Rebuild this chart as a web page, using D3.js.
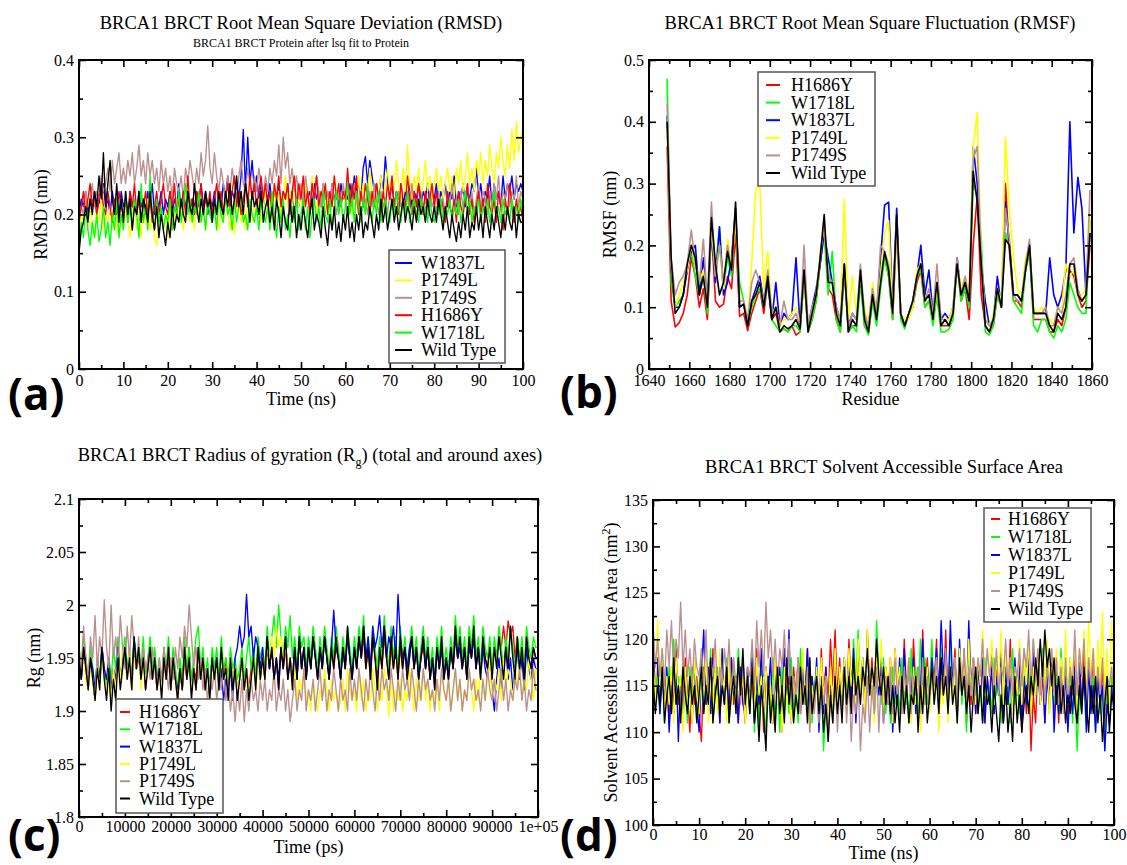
<!DOCTYPE html>
<html>
<head>
<meta charset="utf-8">
<script src="https://cdn.jsdelivr.net/npm/d3@7/dist/d3.min.js"></script>
<style>
  body { margin: 0; background: #fff; }
  text { font-family: "Liberation Serif", "Times New Roman", serif; font-weight: normal; fill: #000; }
</style>
</head>
<body>
<svg id="fig" width="1127" height="865"></svg>
<script>
// ---- shared ----
const colorOf = {
  "H1686Y": "#ff0000", "W1718L": "#00ff00", "W1837L": "#0000ff",
  "P1749L": "#ffff00", "P1749S": "#bc8f8f", "Wild Type": "#000000"
};

// ---- (a) RMSD, every 0.5 ns ----
const timeNs = d3.range(0, 100.001, 0.5);
const rmsdW1837L = [
  0.20,0.22,0.21,0.23,0.20,0.22,0.21,0.23,0.20,0.22,0.21,0.24,0.21,0.22,0.20,0.23,0.21,0.22,0.20,0.23,
  0.21,0.22,0.20,0.23,0.21,0.22,0.20,0.23,0.21,0.22,0.20,0.23,0.21,0.24,0.20,0.22,0.21,0.23,0.20,0.22,
  0.21,0.23,0.20,0.22,0.21,0.24,0.20,0.22,0.21,0.23,0.20,0.22,0.21,0.23,0.22,0.24,0.21,0.23,0.20,0.22,
  0.21,0.23,0.20,0.22,0.21,0.24,0.22,0.25,0.21,0.23,0.22,0.24,0.22,0.25,0.31,0.23,0.30,0.24,0.27,0.23,
  0.25,0.22,0.24,0.21,0.23,0.22,0.24,0.21,0.23,0.22,0.24,0.21,0.23,0.22,0.24,0.21,0.23,0.20,0.22,0.21,
  0.23,0.21,0.24,0.22,0.23,0.21,0.24,0.22,0.23,0.21,0.24,0.22,0.23,0.21,0.24,0.22,0.23,0.21,0.24,0.22,
  0.23,0.22,0.24,0.22,0.25,0.23,0.24,0.22,0.26,0.275,0.24,0.27,0.25,0.23,0.24,0.22,0.25,0.23,0.275,0.24,
  0.22,0.24,0.21,0.23,0.22,0.24,0.21,0.23,0.22,0.24,0.21,0.23,0.22,0.24,0.21,0.23,0.22,0.24,0.21,0.23,
  0.22,0.24,0.21,0.23,0.22,0.24,0.21,0.23,0.22,0.25,0.21,0.23,0.22,0.24,0.21,0.23,0.22,0.24,0.23,0.26,
  0.22,0.24,0.21,0.23,0.22,0.25,0.21,0.24,0.22,0.23,0.21,0.25,0.22,0.24,0.23,0.25,0.22,0.24,0.23,0.24,
  0.23];
const rmsdP1749L = [
  0.18,0.20,0.19,0.22,0.18,0.21,0.19,0.17,0.21,0.19,0.22,0.18,0.20,0.19,0.21,0.18,0.22,0.19,0.17,0.20,
  0.18,0.21,0.19,0.17,0.20,0.22,0.18,0.20,0.17,0.21,0.19,0.22,0.18,0.20,0.17,0.16,0.19,0.21,0.18,0.20,
  0.17,0.21,0.19,0.18,0.22,0.19,0.21,0.18,0.20,0.22,0.19,0.21,0.18,0.22,0.20,0.19,0.21,0.18,0.22,0.20,
  0.19,0.22,0.20,0.18,0.21,0.19,0.23,0.20,0.18,0.21,0.175,0.20,0.22,0.19,0.21,0.18,0.22,0.20,0.19,0.21,
  0.20,0.22,0.19,0.21,0.23,0.20,0.22,0.19,0.24,0.21,0.23,0.20,0.22,0.25,0.21,0.23,0.20,0.24,0.22,0.21,
  0.23,0.20,0.24,0.22,0.21,0.25,0.22,0.20,0.23,0.21,0.24,0.22,0.20,0.23,0.21,0.25,0.22,0.24,0.21,0.23,
  0.21,0.24,0.22,0.20,0.23,0.21,0.25,0.22,0.24,0.21,0.23,0.26,0.22,0.24,0.21,0.23,0.25,0.22,0.24,0.26,
  0.22,0.25,0.23,0.27,0.24,0.22,0.26,0.23,0.29,0.24,0.22,0.25,0.23,0.26,0.22,0.24,0.27,0.23,0.25,0.22,
  0.24,0.26,0.23,0.25,0.22,0.24,0.26,0.23,0.25,0.22,0.26,0.24,0.27,0.23,0.25,0.28,0.24,0.26,0.23,0.27,
  0.25,0.28,0.24,0.27,0.25,0.29,0.26,0.24,0.28,0.26,0.30,0.27,0.25,0.29,0.26,0.31,0.27,0.32,0.28,0.30,
  0.31];
const rmsdP1749S = [
  0.19,0.21,0.20,0.23,0.21,0.22,0.24,0.21,0.23,0.22,0.25,0.23,0.24,0.26,0.23,0.27,0.24,0.26,0.28,0.24,
  0.26,0.24,0.27,0.25,0.28,0.24,0.26,0.29,0.25,0.27,0.24,0.28,0.25,0.27,0.24,0.26,0.23,0.27,0.24,0.26,
  0.23,0.25,0.22,0.26,0.24,0.23,0.25,0.22,0.26,0.24,0.27,0.25,0.23,0.26,0.24,0.28,0.25,0.27,0.315,0.26,
  0.24,0.28,0.25,0.23,0.26,0.24,0.22,0.25,0.23,0.26,0.24,0.22,0.25,0.27,0.24,0.23,0.26,0.24,0.22,0.25,
  0.23,0.26,0.24,0.22,0.25,0.23,0.26,0.24,0.27,0.25,0.29,0.24,0.30,0.26,0.28,0.24,0.26,0.23,0.25,0.22,
  0.24,0.22,0.25,0.23,0.21,0.24,0.22,0.25,0.23,0.21,0.24,0.22,0.23,0.21,0.24,0.22,0.20,0.23,0.21,0.24,
  0.22,0.20,0.23,0.21,0.24,0.22,0.20,0.23,0.21,0.22,0.20,0.23,0.21,0.24,0.22,0.20,0.23,0.21,0.22,0.20,
  0.23,0.21,0.22,0.20,0.23,0.21,0.22,0.20,0.23,0.21,0.24,0.21,0.22,0.20,0.23,0.21,0.22,0.20,0.23,0.21,
  0.22,0.20,0.23,0.21,0.22,0.20,0.23,0.21,0.24,0.21,0.22,0.20,0.23,0.21,0.22,0.24,0.21,0.23,0.20,0.22,
  0.24,0.21,0.23,0.22,0.20,0.23,0.21,0.24,0.22,0.25,0.21,0.23,0.22,0.24,0.21,0.23,0.22,0.25,0.21,0.23,
  0.22];
const rmsdH1686Y = [
  0.19,0.21,0.23,0.20,0.22,0.24,0.21,0.23,0.20,0.22,0.24,0.21,0.20,0.23,0.21,0.19,0.22,0.20,0.23,0.21,
  0.20,0.22,0.19,0.23,0.21,0.24,0.20,0.22,0.19,0.21,0.23,0.20,0.22,0.19,0.21,0.23,0.20,0.22,0.24,0.21,
  0.20,0.23,0.21,0.24,0.20,0.22,0.21,0.23,0.20,0.25,0.21,0.22,0.20,0.23,0.21,0.24,0.20,0.22,0.21,0.23,
  0.20,0.22,0.24,0.21,0.23,0.20,0.22,0.24,0.21,0.23,0.25,0.21,0.23,0.20,0.22,0.24,0.21,0.25,0.22,0.24,
  0.21,0.23,0.25,0.22,0.24,0.21,0.23,0.20,0.24,0.22,0.25,0.21,0.23,0.22,0.24,0.20,0.23,0.25,0.21,0.24,
  0.22,0.25,0.21,0.23,0.20,0.24,0.22,0.25,0.21,0.23,0.22,0.24,0.20,0.23,0.21,0.25,0.22,0.24,0.21,0.23,
  0.22,0.26,0.21,0.24,0.22,0.25,0.20,0.23,0.21,0.24,0.22,0.20,0.23,0.21,0.24,0.22,0.20,0.23,0.21,0.24,
  0.22,0.25,0.21,0.23,0.20,0.24,0.22,0.21,0.25,0.22,0.20,0.23,0.21,0.24,0.22,0.20,0.23,0.21,0.22,0.24,
  0.21,0.23,0.20,0.22,0.21,0.19,0.23,0.21,0.20,0.22,0.19,0.23,0.21,0.20,0.22,0.24,0.20,0.22,0.19,0.21,
  0.23,0.20,0.22,0.19,0.24,0.21,0.20,0.22,0.19,0.23,0.21,0.18,0.22,0.20,0.24,0.21,0.19,0.22,0.20,0.21,
  0.19];
const rmsdW1718L = [
  0.16,0.19,0.17,0.21,0.18,0.16,0.19,0.17,0.20,0.165,0.18,0.21,0.17,0.19,0.16,0.20,0.18,0.22,0.17,0.20,
  0.18,0.23,0.19,0.21,0.18,0.22,0.20,0.17,0.24,0.19,0.21,0.18,0.25,0.20,0.18,0.22,0.19,0.21,0.18,0.20,
  0.19,0.22,0.18,0.21,0.20,0.23,0.19,0.21,0.24,0.20,0.22,0.19,0.21,0.20,0.23,0.19,0.21,0.18,0.22,0.20,
  0.19,0.21,0.18,0.22,0.20,0.19,0.23,0.20,0.21,0.18,0.22,0.19,0.21,0.23,0.19,0.20,0.18,0.22,0.20,0.19,
  0.21,0.18,0.22,0.20,0.19,0.21,0.18,0.23,0.20,0.17,0.21,0.19,0.22,0.18,0.20,0.17,0.21,0.19,0.22,0.18,
  0.20,0.22,0.18,0.21,0.17,0.20,0.22,0.19,0.21,0.18,0.23,0.20,0.19,0.22,0.18,0.21,0.23,0.20,0.22,0.19,
  0.21,0.24,0.20,0.22,0.19,0.23,0.21,0.19,0.22,0.20,0.24,0.21,0.19,0.22,0.20,0.23,0.19,0.21,0.22,0.20,
  0.19,0.22,0.20,0.23,0.21,0.19,0.22,0.20,0.23,0.19,0.21,0.22,0.20,0.19,0.22,0.20,0.21,0.19,0.22,0.20,
  0.19,0.21,0.20,0.22,0.19,0.21,0.20,0.22,0.19,0.21,0.20,0.22,0.19,0.21,0.23,0.20,0.22,0.19,0.21,0.20,
  0.22,0.19,0.21,0.20,0.22,0.19,0.21,0.23,0.20,0.21,0.19,0.22,0.20,0.21,0.19,0.22,0.20,0.21,0.19,0.22,
  0.20];
const rmsdWT = [
  0.15,0.18,0.19,0.21,0.19,0.22,0.20,0.23,0.21,0.25,0.22,0.28,0.21,0.24,0.27,0.22,0.20,0.24,0.19,0.22,
  0.19,0.23,0.20,0.22,0.18,0.21,0.20,0.23,0.19,0.22,0.21,0.19,0.23,0.20,0.18,0.21,0.17,0.20,0.18,0.16,
  0.19,0.17,0.21,0.18,0.20,0.19,0.22,0.20,0.19,0.23,0.21,0.20,0.24,0.21,0.19,0.22,0.20,0.23,0.21,0.22,
  0.19,0.22,0.20,0.23,0.21,0.20,0.23,0.21,0.24,0.20,0.22,0.25,0.21,0.23,0.20,0.24,0.22,0.19,0.23,0.21,
  0.22,0.20,0.23,0.19,0.21,0.22,0.19,0.21,0.18,0.22,0.20,0.17,0.21,0.19,0.18,0.22,0.19,0.21,0.17,0.20,
  0.18,0.21,0.19,0.17,0.20,0.22,0.18,0.20,0.19,0.17,0.21,0.18,0.16,0.20,0.18,0.21,0.17,0.19,0.165,0.20,
  0.18,0.21,0.17,0.19,0.165,0.20,0.18,0.21,0.17,0.19,0.18,0.21,0.19,0.17,0.20,0.18,0.22,0.19,0.21,0.18,
  0.20,0.22,0.19,0.21,0.18,0.20,0.22,0.19,0.21,0.20,0.18,0.21,0.19,0.22,0.20,0.21,0.19,0.22,0.20,0.19,
  0.21,0.19,0.22,0.20,0.18,0.21,0.19,0.17,0.20,0.18,0.165,0.19,0.17,0.20,0.18,0.21,0.17,0.19,0.18,0.21,
  0.18,0.20,0.17,0.21,0.19,0.17,0.20,0.18,0.21,0.19,0.17,0.20,0.18,0.21,0.19,0.18,0.21,0.17,0.20,0.19,
  0.19];

// ---- (b) RMSF, every second residue ----
const residue = d3.range(1649, 1860, 2);
const rmsfH1686Y = [0.36,0.11,0.068,0.075,0.09,0.12,0.18,0.15,0.10,0.13, 0.08,0.23,0.11,0.10,0.105,0.15,0.13,0.22,0.085,0.09,
  0.062,0.09,0.11,0.13,0.09,0.14,0.08,0.09,0.06,0.065, 0.06,0.07,0.055,0.06,0.15,0.06,0.08,0.11,0.17,0.23,
  0.13,0.12,0.08,0.06,0.16,0.06,0.07,0.07,0.15,0.07, 0.06,0.11,0.08,0.15,0.18,0.15,0.08,0.23,0.09,0.07,
  0.09,0.10,0.14,0.16,0.10,0.11,0.08,0.12,0.07,0.07, 0.07,0.09,0.17,0.11,0.13,0.08,0.20,0.28,0.12,0.07,
  0.06,0.07,0.12,0.10,0.30,0.19,0.11,0.11,0.10,0.16, 0.19,0.08,0.08,0.08,0.08,0.06,0.06,0.08,0.07,0.10,
  0.16,0.15,0.12,0.10,0.11,0.20];
const rmsfW1718L = [0.47,0.14,0.10,0.11,0.12,0.16,0.19,0.15,0.12,0.15, 0.09,0.23,0.16,0.23,0.13,0.18,0.15,0.25,0.14,0.11,
  0.07,0.10,0.12,0.13,0.10,0.14,0.08,0.07,0.06,0.065, 0.06,0.07,0.07,0.06,0.15,0.06,0.08,0.11,0.17,0.22,
  0.12,0.19,0.08,0.06,0.16,0.06,0.07,0.06,0.14,0.07, 0.055,0.11,0.07,0.13,0.18,0.15,0.08,0.24,0.08,0.065,
  0.09,0.10,0.15,0.16,0.10,0.11,0.07,0.12,0.06,0.06, 0.065,0.08,0.17,0.11,0.13,0.10,0.30,0.28,0.21,0.06,
  0.055,0.07,0.12,0.10,0.22,0.20,0.11,0.10,0.09,0.16, 0.19,0.07,0.06,0.08,0.08,0.06,0.05,0.07,0.06,0.08,
  0.14,0.12,0.10,0.09,0.09,0.24];
const rmsfW1837L = [0.41,0.16,0.10,0.10,0.12,0.16,0.19,0.20,0.12,0.18, 0.10,0.22,0.14,0.23,0.12,0.14,0.18,0.26,0.10,0.105,
  0.07,0.11,0.13,0.15,0.11,0.14,0.08,0.14,0.07,0.09, 0.08,0.09,0.18,0.07,0.16,0.07,0.10,0.13,0.17,0.22,
  0.18,0.14,0.10,0.08,0.17,0.07,0.09,0.08,0.15,0.09, 0.07,0.13,0.09,0.18,0.265,0.27,0.10,0.26,0.09,0.07,
  0.09,0.11,0.15,0.20,0.12,0.16,0.09,0.14,0.08,0.09, 0.08,0.10,0.18,0.12,0.14,0.11,0.36,0.30,0.17,0.11,
  0.07,0.08,0.15,0.10,0.27,0.20,0.12,0.12,0.11,0.17, 0.20,0.09,0.09,0.09,0.09,0.18,0.12,0.10,0.12,0.16,
  0.40,0.22,0.31,0.26,0.12,0.22];
const rmsfP1749L = [0.39,0.17,0.10,0.12,0.14,0.16,0.20,0.17,0.14,0.16, 0.10,0.23,0.15,0.20,0.13,0.21,0.17,0.24,0.11,0.11,
  0.08,0.17,0.29,0.30,0.13,0.19,0.09,0.10,0.07,0.08, 0.08,0.09,0.10,0.07,0.15,0.07,0.09,0.12,0.19,0.23,
  0.15,0.14,0.09,0.08,0.275,0.08,0.15,0.09,0.15,0.10, 0.07,0.14,0.09,0.15,0.22,0.24,0.09,0.23,0.09,0.08,
  0.08,0.10,0.16,0.17,0.11,0.12,0.08,0.13,0.08,0.08, 0.08,0.10,0.17,0.13,0.15,0.12,0.36,0.415,0.18,0.08,
  0.07,0.09,0.13,0.11,0.375,0.26,0.18,0.13,0.12,0.18, 0.20,0.10,0.09,0.10,0.09,0.08,0.07,0.10,0.10,0.17,
  0.15,0.16,0.12,0.12,0.13,0.25];
const rmsfP1749S = [0.43,0.18,0.12,0.14,0.15,0.17,0.225,0.17,0.14,0.21, 0.11,0.27,0.15,0.20,0.14,0.20,0.16,0.26,0.11,0.11,
  0.08,0.14,0.16,0.14,0.11,0.16,0.09,0.10,0.07,0.11, 0.08,0.08,0.09,0.07,0.20,0.07,0.10,0.12,0.18,0.24,
  0.15,0.14,0.10,0.08,0.16,0.07,0.09,0.08,0.17,0.09, 0.07,0.13,0.09,0.20,0.19,0.17,0.09,0.24,0.09,0.07,
  0.09,0.11,0.15,0.17,0.11,0.13,0.09,0.17,0.08,0.08, 0.07,0.09,0.18,0.12,0.15,0.11,0.34,0.36,0.18,0.08,
  0.07,0.08,0.13,0.10,0.26,0.21,0.12,0.11,0.11,0.17, 0.21,0.09,0.09,0.09,0.10,0.07,0.07,0.10,0.09,0.12,
  0.17,0.18,0.13,0.11,0.12,0.29];
const rmsfWT = [0.40,0.18,0.09,0.10,0.12,0.17,0.20,0.18,0.12,0.15, 0.10,0.245,0.17,0.12,0.14,0.19,0.16,0.27,0.10,0.105,
  0.07,0.11,0.12,0.14,0.10,0.15,0.08,0.10,0.06,0.07, 0.065,0.07,0.08,0.065,0.16,0.06,0.09,0.12,0.18,0.25,
  0.14,0.14,0.09,0.07,0.17,0.06,0.08,0.07,0.16,0.08, 0.06,0.12,0.08,0.14,0.19,0.16,0.09,0.25,0.09,0.07,
  0.09,0.11,0.15,0.17,0.11,0.12,0.08,0.14,0.07,0.08, 0.07,0.09,0.17,0.12,0.14,0.11,0.32,0.27,0.17,0.07,
  0.06,0.08,0.13,0.10,0.21,0.20,0.12,0.12,0.11,0.16, 0.20,0.09,0.09,0.09,0.09,0.07,0.06,0.09,0.08,0.10,
  0.17,0.17,0.12,0.11,0.12,0.22];

// ---- (c) Radius of gyration, every 500 ps ----
const timePs = d3.range(0, 100001, 500);
const rgH1686Y = [
  1.95,1.93,1.96,1.94,1.92,1.95,1.93,1.91,1.95,1.93,1.96,1.94,1.92,1.94,1.91,1.94,1.92,1.95,1.93,1.95,
  1.96,1.93,1.95,1.92,1.96,1.94,1.95,1.93,1.96,1.92,1.95,1.96,1.93,1.95,1.92,1.94,1.92,1.96,1.93,1.95,
  1.92,1.95,1.93,1.91,1.94,1.92,1.95,1.93,1.96,1.92,1.94,1.93,1.96,1.93,1.95,1.92,1.94,1.92,1.95,1.93,
  1.95,1.92,1.96,1.93,1.95,1.92,1.95,1.93,1.94,1.92,1.93,1.95,1.92,1.94,1.92,1.94,1.95,1.93,1.96,1.93,
  1.95,1.93,1.96,1.94,1.96,1.93,1.95,1.92,1.96,1.94,1.96,1.93,1.95,1.93,1.96,1.93,1.97,1.94,1.96,1.93,
  1.96,1.94,1.97,1.95,1.93,1.96,1.94,1.97,1.95,1.93,1.96,1.94,1.96,1.95,1.93,1.96,1.94,1.97,1.95,1.93,
  1.96,1.94,1.97,1.95,1.97,1.94,1.96,1.93,1.97,1.95,1.93,1.96,1.94,1.97,1.95,1.93,1.96,1.94,1.96,1.93,
  1.96,1.94,1.96,1.93,1.95,1.97,1.94,1.96,1.93,1.95,1.96,1.94,1.96,1.93,1.95,1.92,1.96,1.94,1.96,1.93,
  1.95,1.93,1.96,1.94,1.97,1.95,1.96,1.94,1.96,1.93,1.97,1.95,1.97,1.94,1.96,1.93,1.97,1.95,1.94,1.96,
  1.94,1.96,1.95,1.97,1.96,1.98,1.96,1.985,1.97,1.98,1.95,1.97,1.94,1.96,1.94,1.97,1.95,1.94,1.96,1.95,
  1.95];
const rgW1718L = [
  1.96,1.94,1.97,1.95,1.93,1.96,1.94,1.92,1.95,1.93,1.96,1.94,1.92,1.95,1.93,1.96,1.94,1.97,1.93,1.95,
  1.97,1.94,1.96,1.93,1.97,1.95,1.96,1.94,1.97,1.93,1.95,1.97,1.94,1.96,1.93,1.95,1.92,1.96,1.94,1.97,
  1.93,1.96,1.94,1.92,1.95,1.93,1.97,1.94,1.96,1.93,1.95,1.97,1.98,1.94,1.96,1.93,1.95,1.92,1.96,1.94,
  1.96,1.93,1.97,1.94,1.95,1.93,1.96,1.94,1.95,1.93,1.94,1.96,1.93,1.95,1.97,1.94,1.96,1.93,1.97,1.95,
  1.96,1.94,1.98,1.95,1.97,1.99,1.96,2.00,1.97,1.95,1.98,1.96,1.99,1.95,1.97,1.94,1.98,1.96,1.97,1.94,
  1.97,1.95,1.98,1.96,1.94,1.97,1.95,1.98,1.96,1.94,1.97,1.95,1.98,1.96,1.94,1.97,1.95,1.98,1.96,1.94,
  1.97,1.95,1.98,1.96,1.99,1.95,1.97,1.94,1.98,1.96,1.94,1.97,1.95,1.99,1.96,1.94,1.98,1.95,1.97,1.94,
  1.98,1.95,1.97,1.94,1.96,1.98,1.95,1.97,1.94,1.96,1.98,1.95,1.97,1.94,1.96,1.93,1.97,1.95,1.98,1.94,
  1.96,1.94,1.97,1.95,1.99,1.96,1.98,1.95,1.97,1.94,1.98,1.96,1.99,1.95,1.97,1.94,1.98,1.96,1.95,1.97,
  1.94,1.97,1.95,1.98,1.96,1.94,1.97,1.95,1.98,1.96,1.94,1.97,1.95,1.97,1.94,1.98,1.96,1.95,1.97,1.96,
  1.96];
const rgW1837L = [
  1.95,1.93,1.96,1.94,1.93,1.95,1.94,1.92,1.95,1.93,1.96,1.94,1.93,1.95,1.92,1.94,1.93,1.96,1.93,1.95,
  1.96,1.94,1.95,1.93,1.97,1.94,1.96,1.93,1.95,1.93,1.94,1.96,1.93,1.95,1.93,1.94,1.92,1.95,1.93,1.96,
  1.92,1.95,1.93,1.92,1.94,1.92,1.96,1.93,1.95,1.92,1.94,1.92,1.95,1.93,1.95,1.92,1.94,1.92,1.95,1.93,
  1.95,1.92,1.94,1.91,1.93,1.92,1.94,1.91,1.95,1.96,1.98,1.96,1.97,2.01,1.97,1.98,1.95,1.97,1.96,1.94,
  1.96,1.93,1.97,1.94,1.96,1.93,1.95,1.93,1.96,1.94,1.97,1.93,1.95,1.93,1.96,1.93,1.97,1.94,1.96,1.93,
  1.96,1.94,1.97,1.95,1.93,1.96,1.94,1.97,1.95,1.93,1.96,1.995,1.96,1.95,1.93,1.96,1.94,1.97,1.95,1.93,
  1.96,1.94,1.97,1.95,1.98,1.95,1.97,1.94,1.98,1.96,1.97,1.99,1.96,1.98,1.95,1.97,1.96,1.98,1.95,2.01,
  1.97,1.95,1.96,1.94,1.96,1.97,1.94,1.96,1.93,1.95,1.97,1.94,1.96,1.93,1.95,1.93,1.96,1.94,1.96,1.93,
  1.95,1.93,1.96,1.94,1.97,1.95,1.96,1.94,1.96,1.93,1.96,1.95,1.97,1.94,1.96,1.93,1.96,1.94,1.93,1.95,
  1.92,1.90,1.93,1.95,1.92,1.94,1.96,1.93,1.95,1.92,1.94,1.96,1.93,1.95,1.92,1.96,1.94,1.93,1.95,1.94,
  1.94];
const rgP1749L = [
  1.96,1.94,1.95,1.93,1.92,1.94,1.93,1.91,1.95,1.92,1.95,1.93,1.92,1.94,1.91,1.94,1.92,1.95,1.93,1.96,
  1.95,1.93,1.96,1.92,1.95,1.94,1.96,1.92,1.95,1.93,1.94,1.96,1.93,1.95,1.92,1.94,1.92,1.95,1.93,1.96,
  1.92,1.95,1.93,1.91,1.94,1.92,1.96,1.93,1.95,1.92,1.94,1.92,1.95,1.93,1.95,1.92,1.94,1.91,1.95,1.93,
  1.94,1.92,1.95,1.93,1.94,1.92,1.95,1.93,1.94,1.92,1.93,1.95,1.92,1.94,1.92,1.93,1.95,1.92,1.94,1.93,
  1.95,1.93,1.96,1.95,1.97,1.95,1.98,1.96,1.97,1.95,1.96,1.94,1.95,1.92,1.94,1.91,1.93,1.92,1.94,1.91,
  1.92,1.90,1.93,1.91,1.90,1.92,1.91,1.94,1.92,1.90,1.93,1.91,1.92,1.90,1.91,1.93,1.90,1.94,1.92,1.91,
  1.92,1.90,1.94,1.91,1.93,1.90,1.92,1.91,1.94,1.92,1.90,1.93,1.91,1.94,1.92,1.895,1.93,1.90,1.92,1.91,
  1.93,1.90,1.92,1.91,1.94,1.92,1.90,1.93,1.91,1.92,1.94,1.91,1.93,1.90,1.92,1.91,1.93,1.90,1.94,1.92,
  1.91,1.93,1.90,1.92,1.94,1.91,1.93,1.90,1.92,1.91,1.94,1.92,1.90,1.93,1.91,1.94,1.92,1.91,1.93,1.95,
  1.91,1.93,1.92,1.94,1.91,1.95,1.92,1.94,1.93,1.91,1.94,1.92,1.95,1.91,1.93,1.92,1.95,1.93,1.91,1.94,
  1.93];
const rgP1749S = [
  1.96,1.94,1.98,1.95,1.93,1.97,1.95,1.99,1.94,1.97,1.95,2.005,1.96,1.94,2.00,1.95,1.97,1.94,1.99,1.96,
  1.94,1.98,1.95,1.99,1.96,1.94,1.97,1.93,1.96,1.94,1.95,1.93,1.96,1.94,1.92,1.95,1.93,1.96,1.94,1.92,
  1.95,1.93,1.96,1.94,1.97,1.95,1.98,1.96,2.00,1.97,1.94,1.96,1.93,1.95,1.92,1.94,1.91,1.93,1.92,1.94,
  1.91,1.93,1.92,1.94,1.91,1.93,1.90,1.92,1.89,1.92,1.90,1.93,1.89,1.92,1.90,1.93,1.91,1.92,1.90,1.93,
  1.91,1.93,1.90,1.92,1.91,1.94,1.90,1.92,1.91,1.93,1.90,1.92,1.89,1.91,1.93,1.90,1.92,1.91,1.94,1.90,
  1.92,1.91,1.93,1.90,1.92,1.94,1.91,1.93,1.90,1.92,1.91,1.94,1.92,1.90,1.93,1.91,1.92,1.90,1.94,1.91,
  1.93,1.91,1.94,1.92,1.90,1.93,1.91,1.94,1.92,1.90,1.93,1.91,1.94,1.92,1.93,1.91,1.94,1.92,1.90,1.93,
  1.91,1.94,1.92,1.93,1.91,1.94,1.92,1.90,1.93,1.91,1.94,1.92,1.93,1.91,1.92,1.90,1.93,1.91,1.94,1.92,
  1.91,1.93,1.90,1.92,1.94,1.91,1.93,1.90,1.92,1.91,1.94,1.92,1.93,1.91,1.92,1.90,1.93,1.91,1.94,1.92,
  1.91,1.93,1.90,1.92,1.94,1.91,1.93,1.90,1.92,1.91,1.93,1.92,1.94,1.91,1.93,1.90,1.92,1.91,1.94,1.92,
  1.92];
const rgWT = [
  1.95,1.93,1.96,1.94,1.92,1.95,1.93,1.91,1.94,1.92,1.96,1.93,1.91,1.94,1.90,1.93,1.91,1.95,1.92,1.94,
  1.96,1.93,1.95,1.92,1.97,1.94,1.96,1.93,1.95,1.92,1.94,1.96,1.93,1.95,1.92,1.94,1.91,1.95,1.93,1.96,
  1.92,1.95,1.93,1.91,1.94,1.92,1.96,1.93,1.95,1.91,1.94,1.92,1.96,1.93,1.95,1.92,1.94,1.91,1.95,1.93,
  1.95,1.92,1.96,1.93,1.94,1.91,1.95,1.92,1.94,1.91,1.93,1.95,1.92,1.94,1.91,1.93,1.95,1.92,1.96,1.93,
  1.95,1.93,1.97,1.94,1.96,1.93,1.95,1.92,1.96,1.94,1.97,1.93,1.95,1.92,1.96,1.93,1.97,1.94,1.96,1.93,
  1.96,1.94,1.97,1.95,1.93,1.96,1.94,1.97,1.95,1.93,1.96,1.94,1.97,1.95,1.93,1.96,1.94,1.98,1.95,1.93,
  1.96,1.94,1.97,1.95,1.98,1.94,1.96,1.93,1.97,1.95,1.92,1.96,1.94,1.98,1.95,1.93,1.97,1.94,1.96,1.93,
  1.97,1.94,1.96,1.93,1.95,1.97,1.94,1.96,1.93,1.95,1.97,1.94,1.96,1.93,1.95,1.92,1.96,1.94,1.97,1.93,
  1.95,1.93,1.96,1.94,1.98,1.95,1.97,1.94,1.96,1.93,1.97,1.95,1.98,1.94,1.96,1.93,1.97,1.95,1.94,1.96,
  1.93,1.96,1.94,1.97,1.95,1.93,1.96,1.94,1.98,1.95,1.93,1.97,1.94,1.96,1.93,1.97,1.95,1.94,1.96,1.95,
  1.95];

// ---- (d) SASA, every 0.5 ns ----
const sasaH1686Y = [
  119,114,117,112,118,113,116,111,117,112,119,113,116,112,118,114,110,117,113,116,
  112,109,117,113,116,112,119,114,116,111,117,113,116,112,118,113,116,111,117,114,
  111,116,112,118,113,119,112,116,110,117,113,115,111,117,113,116,110,118,114,116,
  112,117,114,118,112,116,113,119,111,116,113,117,112,119,114,117,113,120,115,121,
  114,118,112,117,113,120,115,118,113,119,114,117,112,121,114,118,113,120,115,117,
  112,117,114,118,112,119,115,117,113,120,114,118,112,120,115,117,113,121,114,118,
  113,117,115,120,112,118,114,121,113,117,115,119,112,117,114,119,111,116,113,118,
  112,117,114,118,111,116,113,119,112,117,114,119,111,117,113,120,112,116,114,118,
  110,116,112,117,108,114,111,118,113,116,111,119,114,117,112,118,111,116,113,117,
  112,117,114,118,111,116,113,119,112,117,114,118,111,116,113,117,110,115,112,116,
  114];
const sasaW1718L = [
  118,113,116,112,119,111,115,117,112,120,113,116,112,118,114,111,117,113,116,112,
  115,118,112,116,113,119,111,115,117,112,116,113,118,111,115,117,112,119,115,118,
  113,116,112,119,110,115,111,117,113,110,116,112,118,111,115,110,117,112,116,112,
  118,112,115,111,119,113,116,112,118,111,115,117,112,116,108,113,110,116,112,117,
  113,116,112,118,114,117,113,120,115,121,114,118,113,120,115,117,112,122,116,113,
  118,112,116,111,117,113,115,112,118,113,116,111,119,113,117,112,120,114,118,113,
  115,120,113,117,112,119,114,117,113,120,114,118,111,119,113,117,110,118,114,116,
  117,112,116,111,118,113,115,112,118,114,116,111,117,113,115,111,119,113,116,112,
  114,119,113,117,112,120,114,118,113,119,115,117,112,118,113,116,112,119,114,117,
  113,118,111,116,108,114,112,117,111,118,113,116,110,117,112,115,108,114,111,116,
  113];
const sasaW1837L = [
  121,114,118,112,116,113,117,110,115,112,118,109,116,111,117,113,115,111,118,113,
  110,116,121,113,117,112,118,114,116,111,119,113,117,112,118,114,116,111,117,113,
  112,117,113,118,111,116,113,119,112,117,114,118,111,116,113,117,112,119,114,121,
  111,116,113,118,112,117,114,119,111,116,113,118,110,116,112,117,111,115,113,118,
  112,116,114,118,112,117,113,119,111,116,114,118,113,120,115,117,112,116,114,118,
  111,116,113,117,110,115,113,118,112,119,114,117,113,118,112,116,114,120,113,117,
  113,118,115,119,114,122,116,119,113,122,115,118,112,120,114,117,113,122,115,118,
  112,117,114,118,111,116,113,117,112,116,114,118,111,117,113,116,112,118,114,117,
  111,116,113,118,112,119,114,117,113,118,111,116,113,118,110,115,112,117,113,116,
  110,115,112,117,111,118,113,116,110,117,112,115,110,116,113,115,108,113,111,115,
  112];
const sasaP1749L = [
  118,113,122,115,119,112,116,113,117,111,118,114,116,110,117,113,115,111,118,114,
  112,117,114,118,111,116,113,117,112,119,114,116,111,118,113,116,112,117,114,116,
  111,116,113,117,112,118,114,116,112,117,113,115,111,118,113,116,110,117,113,115,
  111,116,113,118,112,119,114,116,110,115,113,117,112,118,114,116,111,117,113,119,
  112,117,114,118,112,119,115,117,113,120,114,118,112,121,114,117,111,118,115,120,
  112,117,114,118,111,119,115,117,112,116,114,118,111,117,113,116,110,115,113,117,
  112,116,114,118,110,115,113,117,111,116,114,118,112,119,115,117,113,120,114,118,
  113,118,115,121,114,119,116,120,113,118,115,121,113,119,115,118,112,117,114,120,
  113,118,115,120,112,117,114,119,113,118,115,120,112,117,114,119,113,118,115,121,
  113,118,115,120,112,119,116,121,114,122,116,119,113,120,115,123,114,119,112,122,
  116];
const sasaP1749S = [
  122,117,120,116,119,115,121,117,122,116,120,118,124,117,121,116,119,115,120,117,
  116,119,115,121,114,118,116,120,114,117,115,119,116,120,114,118,115,117,113,118,
  114,117,116,120,115,122,117,121,116,124,118,121,116,120,115,119,117,121,115,120,
  113,116,114,118,112,115,113,117,110,114,112,116,111,115,113,116,109,114,111,116,
  110,115,112,117,111,116,109,114,112,116,108,113,111,116,110,115,112,117,110,116,
  111,116,113,117,112,118,114,116,112,117,113,118,112,116,114,117,112,118,113,116,
  113,117,115,118,112,116,114,119,113,117,115,118,112,116,114,119,113,117,114,118,
  114,118,116,120,114,119,116,118,115,119,114,117,116,120,115,118,114,117,116,119,
  115,119,117,121,115,120,116,119,114,118,113,117,115,119,114,118,113,117,112,118,
  113,117,115,121,114,119,116,120,113,118,115,119,113,117,114,118,112,116,115,117,
  114];
const sasaWT = [
  116,112,115,113,117,111,114,116,112,118,113,115,111,117,114,112,116,113,115,111,
  114,117,112,115,113,118,111,114,116,112,115,113,117,111,114,116,112,118,114,119,
  113,116,112,117,111,114,109,115,112,108,116,111,114,110,117,112,115,111,118,113,
  116,111,114,112,117,113,115,111,118,112,114,116,112,115,110,113,109,114,111,116,
  112,115,111,117,113,116,112,118,114,116,113,117,115,119,114,117,115,120,116,114,
  117,113,116,112,115,111,114,110,116,112,115,111,114,113,116,110,115,112,117,111,
  114,117,113,116,112,118,114,116,112,117,113,115,111,118,114,116,112,115,110,114,
  117,112,115,111,116,113,114,110,115,112,109,114,111,115,110,113,109,116,111,114,
  110,113,115,112,116,114,118,115,120,116,121,117,119,115,118,113,116,112,115,111,
  114,112,116,113,111,115,112,117,113,110,115,112,116,111,114,109,113,116,110,114,
  113];

// ---- tick labels ----
const ticksTime10 = d3.range(0, 101, 10);
const ticksRmsd = [0, 0.1, 0.2, 0.3, 0.4];
const ticksResidue = d3.range(1640, 1861, 20);
const ticksRmsf = [0, 0.1, 0.2, 0.3, 0.4, 0.5];
const ticksTimePs = d3.range(0, 100001, 10000);
const ticksRg = [1.8, 1.85, 1.9, 1.95, 2, 2.05, 2.1];
const ticksSasa = [100, 105, 110, 115, 120, 125, 130, 135];

const svg = d3.select("#fig");
const numFmt = d => String(+d.toFixed(4));
const SERIF = '"Liberation Serif", "Times New Roman", serif';

function midpoints(t) {
  const m = [];
  for (let i = 0; i < t.length - 1; i++) m.push((t[i] + t[i + 1]) / 2);
  return m;
}

function panel(o) {
  const g = svg.append("g");
  const x = d3.scaleLinear().domain(o.xDomain).range([o.left, o.right]);
  const y = d3.scaleLinear().domain(o.yDomain).range([o.bottom, o.top]);

  svg.append("clipPath").attr("id", "clip-" + o.id)
    .append("rect")
    .attr("x", o.left).attr("y", o.top)
    .attr("width", o.right - o.left).attr("height", o.bottom - o.top);

  const data = g.append("g").attr("clip-path", `url(#clip-${o.id})`);
  o.series.forEach(s => {
    const line = d3.line().x((d, i) => x(o.xs[i])).y(d => y(d));
    data.append("path")
      .attr("d", line(s.values))
      .attr("fill", "none")
      .attr("stroke", colorOf[s.name])
      .attr("stroke-width", o.lw || 1.35)
      .attr("stroke-linejoin", "round");
  });

  const MAJ = 7, MIN = 4;
  const axes = [
    [d3.axisBottom(x), `translate(0,${o.bottom})`, o.xTicks, true],
    [d3.axisTop(x), `translate(0,${o.top})`, o.xTicks, false],
    [d3.axisLeft(y), `translate(${o.left},0)`, o.yTicks, true],
    [d3.axisRight(y), `translate(${o.right},0)`, o.yTicks, false]
  ];
  axes.forEach(([ax, tr, ticks, labels], k) => {
    const isX = k < 2;
    const a = g.append("g").attr("transform", tr)
      .call(ax.tickValues(ticks).tickSizeInner(-MAJ).tickSizeOuter(0)
        .tickPadding(isX ? (o.xPad || 6) : 5)
        .tickFormat(labels ? (isX ? (o.xFmt || numFmt) : numFmt) : ""));
    a.attr("font-family", SERIF).attr("font-size", 16);
    a.select(".domain").remove();
    a.selectAll(".tick line").attr("stroke", "#000").attr("stroke-width", 1.6);
    a.selectAll(".tick text").style("font-size", "16px").attr("fill", "#000");
    const m = g.append("g").attr("transform", tr)
      .call(ax.tickValues(midpoints(ticks)).tickSizeInner(-MIN).tickSizeOuter(0).tickFormat(""));
    m.select(".domain").remove();
    m.selectAll(".tick line").attr("stroke", "#000").attr("stroke-width", 1.6);
  });

  g.append("rect")
    .attr("x", o.left).attr("y", o.top)
    .attr("width", o.right - o.left).attr("height", o.bottom - o.top)
    .attr("fill", "none").attr("stroke", "#000").attr("stroke-width", 2);

  // legend
  const L = o.legend;
  g.append("rect")
    .attr("x", L.x).attr("y", L.y).attr("width", L.w).attr("height", L.h)
    .attr("fill", "#fff").attr("stroke", "#555").attr("stroke-width", 1.5);
  L.names.forEach((n, i) => {
    const cy = L.y + L.first + i * L.step;
    g.append("line")
      .attr("x1", L.x + L.lx0).attr("x2", L.x + L.lx1)
      .attr("y1", cy).attr("y2", cy)
      .attr("stroke", colorOf[n]).attr("stroke-width", 2);
    g.append("text")
      .attr("x", L.x + L.tx).attr("y", cy + 6)
      .style("font-size", "18px")
      .text(n);
  });

  // titles
  const t = g.append("text").attr("x", o.titleX).attr("y", o.titleY)
    .attr("text-anchor", "middle").style("font-size", "18.5px");
  o.title(t);
  g.append("text").attr("x", (o.left + o.right) / 2).attr("y", o.xLabelY)
    .attr("text-anchor", "middle").style("font-size", "18px").text(o.xLabel);
  const yl = g.append("text")
    .attr("transform", `translate(${o.yLabelX},${(o.top + o.bottom) / 2}) rotate(-90)`)
    .attr("text-anchor", "middle").style("font-size", "18px");
  o.yLabel(yl);

  svg.append("text").attr("x", o.tagX).attr("y", o.tagY)
    .style("font-family", '"Open Sans", "DejaVu Sans", sans-serif')
    .style("font-weight", "bold").style("font-size", "44px")
    .text(o.tag);
}

// (a)
panel({
  id: "a", left: 79, right: 523, top: 60, bottom: 369,
  xDomain: [0, 100], yDomain: [0, 0.4], xs: timeNs,
  xTicks: ticksTime10, yTicks: ticksRmsd,
  series: [
    { name: "W1837L", values: rmsdW1837L }, { name: "P1749L", values: rmsdP1749L },
    { name: "P1749S", values: rmsdP1749S }, { name: "H1686Y", values: rmsdH1686Y },
    { name: "W1718L", values: rmsdW1718L }, { name: "Wild Type", values: rmsdWT }
  ],
  legend: { x: 389, y: 250, w: 116, h: 113, first: 13, step: 17.4, lx0: 6, lx1: 23, tx: 32,
    names: ["W1837L", "P1749L", "P1749S", "H1686Y", "W1718L", "Wild Type"] },
  titleX: 301, titleY: 29,
  title: t => t.text("BRCA1 BRCT Root Mean Square Deviation (RMSD)"),
  xLabel: "Time (ns)", xLabelY: 405, yLabelX: 47,
  yLabel: t => t.text("RMSD (nm)"),
  tag: "(a)", tagX: 8, tagY: 410
});
svg.append("text").attr("x", 301).attr("y", 47).attr("text-anchor", "middle")
  .style("font-size", "12px").text("BRCA1 BRCT Protein after lsq fit to Protein");

// (b)
panel({
  id: "b", left: 649, right: 1092, top: 60, bottom: 369,
  xDomain: [1640, 1860], yDomain: [0, 0.5], xs: residue,
  xTicks: ticksResidue, yTicks: ticksRmsf, lw: 1.6,
  series: [
    { name: "H1686Y", values: rmsfH1686Y }, { name: "W1718L", values: rmsfW1718L },
    { name: "W1837L", values: rmsfW1837L }, { name: "P1749L", values: rmsfP1749L },
    { name: "P1749S", values: rmsfP1749S }, { name: "Wild Type", values: rmsfWT }
  ],
  legend: { x: 758, y: 72, w: 117, h: 114, first: 13, step: 17.6, lx0: 8, lx1: 22, tx: 33,
    names: ["H1686Y", "W1718L", "W1837L", "P1749L", "P1749S", "Wild Type"] },
  titleX: 870, titleY: 29,
  title: t => t.text("BRCA1 BRCT Root Mean Square Fluctuation (RMSF)"),
  xLabel: "Residue", xLabelY: 405, yLabelX: 616,
  yLabel: t => t.text("RMSF (nm)"),
  tag: "(b)", tagX: 560, tagY: 408
});

// (c)
panel({
  id: "c", left: 79, right: 538, top: 499, bottom: 817,
  xDomain: [0, 100000], yDomain: [1.8, 2.1], xs: timePs,
  xTicks: ticksTimePs, yTicks: ticksRg, xPad: 4,
  xFmt: d => d === 100000 ? "1e+05" : String(d),
  series: [
    { name: "H1686Y", values: rgH1686Y }, { name: "W1718L", values: rgW1718L },
    { name: "W1837L", values: rgW1837L }, { name: "P1749L", values: rgP1749L },
    { name: "P1749S", values: rgP1749S }, { name: "Wild Type", values: rgWT }
  ],
  legend: { x: 116, y: 699, w: 107, h: 114, first: 13, step: 17.3, lx0: 4, lx1: 14, tx: 23,
    names: ["H1686Y", "W1718L", "W1837L", "P1749L", "P1749S", "Wild Type"] },
  titleX: 310, titleY: 461,
  title: t => {
    t.append("tspan").text("BRCA1 BRCT Radius of gyration (R");
    t.append("tspan").attr("dy", 5).style("font-size", "12px").text("g");
    t.append("tspan").attr("dy", -5).text(") (total and around axes)");
  },
  xLabel: "Time (ps)", xLabelY: 853, yLabelX: 40,
  yLabel: t => t.text("Rg (nm)"),
  tag: "(c)", tagX: 8, tagY: 851
});

// (d)
panel({
  id: "d", left: 653, right: 1114, top: 500, bottom: 825,
  xDomain: [0, 100], yDomain: [100, 135], xs: timeNs,
  xTicks: ticksTime10, yTicks: ticksSasa, xPad: 4,
  series: [
    { name: "H1686Y", values: sasaH1686Y }, { name: "W1718L", values: sasaW1718L },
    { name: "W1837L", values: sasaW1837L }, { name: "P1749L", values: sasaP1749L },
    { name: "P1749S", values: sasaP1749S }, { name: "Wild Type", values: sasaWT }
  ],
  legend: { x: 984, y: 508, w: 107, h: 114, first: 11, step: 18, lx0: 7, lx1: 16, tx: 24,
    names: ["H1686Y", "W1718L", "W1837L", "P1749L", "P1749S", "Wild Type"] },
  titleX: 884, titleY: 473,
  title: t => t.text("BRCA1 BRCT Solvent Accessible Surface Area"),
  xLabel: "Time (ns)", xLabelY: 859, yLabelX: 617,
  yLabel: t => {
    t.append("tspan").text("Solvent Accessible Surface Area (nm");
    t.append("tspan").attr("dy", -7).style("font-size", "12px").text("2");
    t.append("tspan").attr("dy", 7).text(")");
  },
  tag: "(d)", tagX: 560, tagY: 851
});
</script>
</body>
</html>
